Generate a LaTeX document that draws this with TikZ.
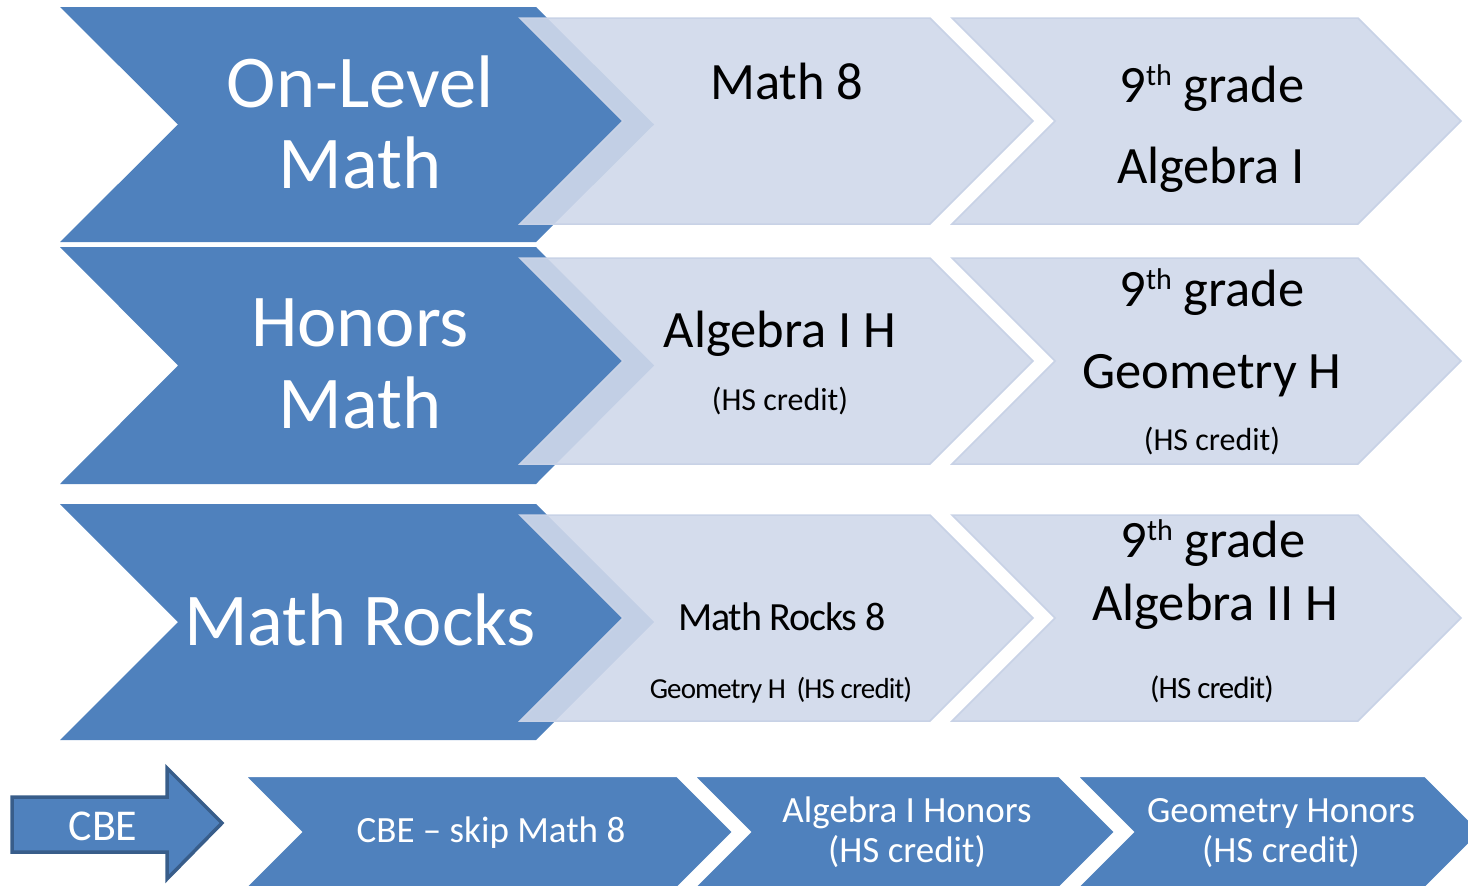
\documentclass[tikz,border=0pt]{standalone}
\usepackage{fontspec}
\setmainfont{Carlito}
\newfontfamily\tightfont[LetterSpace=-3]{Carlito}
\definecolor{darkfill}{HTML}{4F81BD}
\definecolor{lightfill}{HTML}{CFD8EA}
\definecolor{lightedge}{HTML}{C8D2E6}
\definecolor{arrowedge}{HTML}{385D8A}
\newcommand\chevpath[5]{(#1,#3) -- (#2,#3) -- ({#2+#5},{(#3+#4)/2}) -- (#2,#4) -- (#1,#4) -- ({#1+#5},{(#3+#4)/2}) -- cycle}
\newcommand\thsup{\raisebox{0.32em}{\fontsize{30}{30}\selectfont th}}
\tikzset{
  darkchev/.style={fill=darkfill},
  lightchev/.style={fill=lightfill, fill opacity=0.9, draw=lightedge, line width=1.5pt},
  basechev/.style={fill=darkfill, draw=white, line width=2pt},
  bigtxt/.style={anchor=base, inner sep=0pt, text=white, font=\fontsize{74.5}{80}\selectfont},
  midtxt/.style={anchor=base, inner sep=0pt, font=\fontsize{52.5}{60}\selectfont},
  smalltxt/.style={anchor=base, inner sep=0pt, font=\fontsize{32}{36}\selectfont},
  tighttxt/.style={anchor=base, inner sep=0pt, font=\tightfont\fontsize{#1}{36}\selectfont},
  basetxt/.style={anchor=base, inner sep=0pt, text=white, font=\fontsize{37}{42}\selectfont}
}
\begin{document}
\begin{tikzpicture}[x=1pt, y=-1pt]
  \useasboundingbox (0,0) rectangle (1468,886);
  \clip (0,0) rectangle (1468,886);
  \fill[darkchev] \chevpath{60}{536}{7}{242}{118};
  \fill[darkchev] \chevpath{60}{536}{247}{484}{118};
  \fill[darkchev] \chevpath{60}{536}{504}{740}{118};
  \foreach \yt/\yb in {18/224, 258/464, 515/721} {
    \draw[lightchev] \chevpath{520}{930}{\yt}{\yb}{103};
    \draw[lightchev] \chevpath{952}{1358}{\yt}{\yb}{103};
  }
  \draw[basechev] \chevpath{245}{677}{776}{888}{56};
  \draw[basechev] \chevpath{694}{1059}{776}{888}{56};
  \draw[basechev] \chevpath{1077}{1425}{776}{888}{56};
  \draw[fill=darkfill, draw=arrowedge, line width=3.5pt]
    (12,797) -- (167,797) -- (167,768) -- (222,823) -- (167,879) -- (167,852) -- (12,852) -- cycle;

  \node[bigtxt] (onlevel) at (360,107) {On-Level};
  \node[bigtxt] (onmath) at (360,188) {Math};
  \node[midtxt] (matheight) at (787,99) {Math 8};
  \node[midtxt] (gradea) at (1212,102) {9\thsup\ grade};
  \node[midtxt] (algone) at (1211,183) {Algebra I};

  \node[bigtxt] (honors) at (360,346) {Honors};
  \node[bigtxt] (honmath) at (360,428) {Math};
  \node[midtxt] (algoneh) at (780,347) {Algebra I H};
  \node[smalltxt] (credita) at (780,410) {(HS credit)};
  \node[midtxt] (gradeb) at (1212,306) {9\thsup\ grade};
  \node[midtxt] (geomh) at (1212,388) {Geometry H};
  \node[smalltxt] (creditb) at (1212,450) {(HS credit)};

  \node[bigtxt] (rocks) at (360,645) {Math Rocks};
  \node[tighttxt=40] (rockseight) at (782,630) {Math Rocks 8};
  \node[tighttxt=29] (rocksgeom) at (781,698) {Geometry H\, (HS credit)};
  \node[midtxt] (gradec) at (1213,557) {9\thsup\ grade};
  \node[midtxt] (algtwoh) at (1215,620) {Algebra II H};
  \node[tighttxt=31] (creditc) at (1212,698) {(HS credit)};

  \node[basetxt, font=\fontsize{44}{50}\selectfont] (cbe) at (103,840) {CBE};
  \node[basetxt] (skip) at (491,842) {CBE -- skip Math 8};
  \node[basetxt] (alghon) at (907,822) {Algebra I Honors};
  \node[basetxt] (creditd) at (907,862) {(HS credit)};
  \node[basetxt] (geohon) at (1281,822) {Geometry Honors};
  \node[basetxt] (credite) at (1281,862) {(HS credit)};
\end{tikzpicture}
\end{document}
